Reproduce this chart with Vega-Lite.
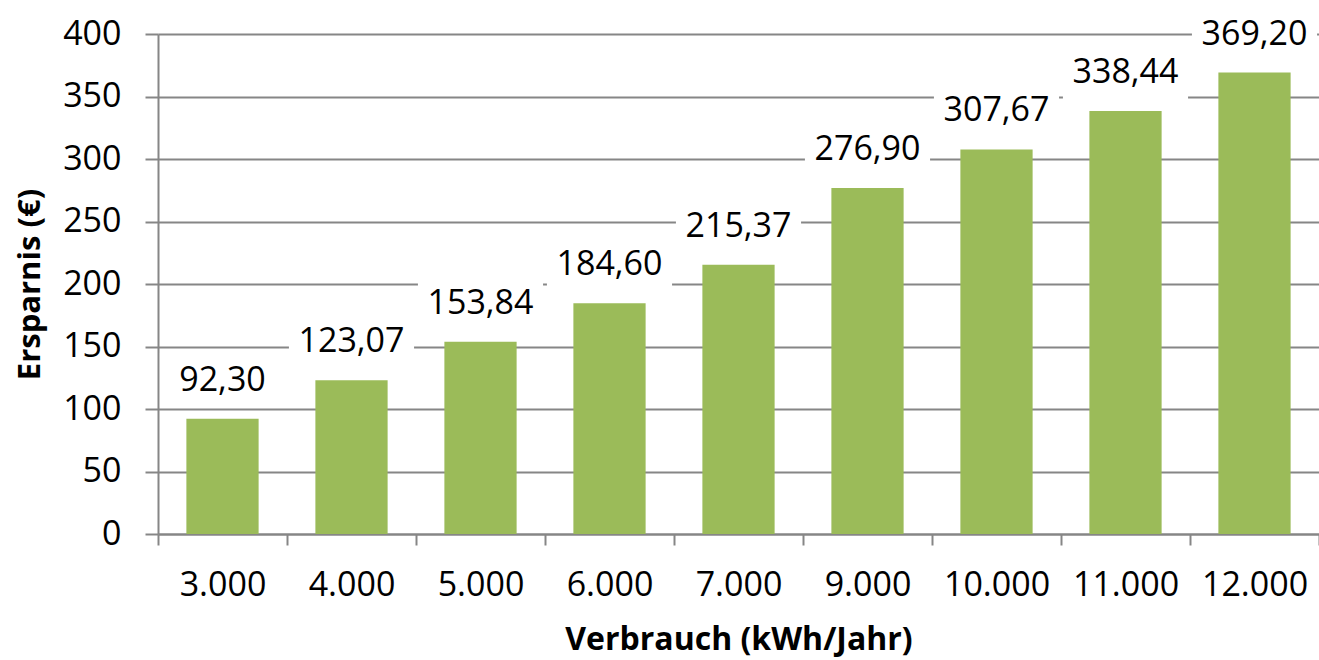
{
  "$schema": "https://vega.github.io/schema/vega-lite/v6.json",
  "autosize": {"type": "none"},
  "width": 1161,
  "height": 500,
  "padding": {"left": 158, "top": 34, "right": 0, "bottom": 126},
  "background": "white",
  "config": {
    "view": {"stroke": null},
    "font": "Open Sans",
    "locale": {"number": {"decimal": ",", "thousands": ".", "grouping": [3], "currency": ["", " €"]}},
    "axis": {
      "domainColor": "#868686",
      "domainWidth": 2,
      "tickColor": "#868686",
      "tickWidth": 2,
      "gridColor": "#868686",
      "gridWidth": 2,
      "labelFont": "Open Sans",
      "labelFontSize": 34,
      "labelColor": "#000000",
      "titleFont": "Open Sans",
      "titleFontWeight": "bold",
      "titleFontSize": 31,
      "titleColor": "#000000"
    }
  },
  "data": {
    "values": [
      {"verbrauch": "3.000", "ersparnis": 92.30},
      {"verbrauch": "4.000", "ersparnis": 123.07},
      {"verbrauch": "5.000", "ersparnis": 153.84},
      {"verbrauch": "6.000", "ersparnis": 184.60},
      {"verbrauch": "7.000", "ersparnis": 215.37},
      {"verbrauch": "9.000", "ersparnis": 276.90},
      {"verbrauch": "10.000", "ersparnis": 307.67},
      {"verbrauch": "11.000", "ersparnis": 338.44},
      {"verbrauch": "12.000", "ersparnis": 369.20}
    ]
  },
  "encoding": {
    "x": {
      "field": "verbrauch",
      "type": "ordinal",
      "sort": null,
      "scale": {"paddingInner": 0, "paddingOuter": 0},
      "axis": {
        "title": "Verbrauch (kWh/Jahr)",
        "titleFontSize": 32,
        "labelAngle": 0,
        "tickBand": "extent",
        "tickSize": 11,
        "labelPadding": 23,
        "titlePadding": 22,
        "grid": false
      }
    },
    "y": {
      "field": "ersparnis",
      "type": "quantitative",
      "scale": {"domain": [0, 400], "nice": false},
      "axis": {
        "title": "Ersparnis (€)",
        "values": [0, 50, 100, 150, 200, 250, 300, 350, 400],
        "tickSize": 13,
        "labelPadding": 24,
        "titlePadding": 16,
        "grid": true,
        "format": "d"
      }
    }
  },
  "layer": [
    {
      "mark": {"type": "bar", "color": "white", "width": {"band": 0.97}, "yOffset": -66, "y2Offset": -12},
      "encoding": {"y2": {"field": "ersparnis"}}
    },
    {"mark": {"type": "bar", "color": "#9BBB59", "width": {"band": 0.56}}},
    {
      "mark": {"type": "text", "baseline": "alphabetic", "dy": -28, "fontSize": 34, "font": "Open Sans", "color": "#000000"},
      "encoding": {"text": {"field": "ersparnis", "type": "quantitative", "format": ",.2f"}}
    }
  ]
}
